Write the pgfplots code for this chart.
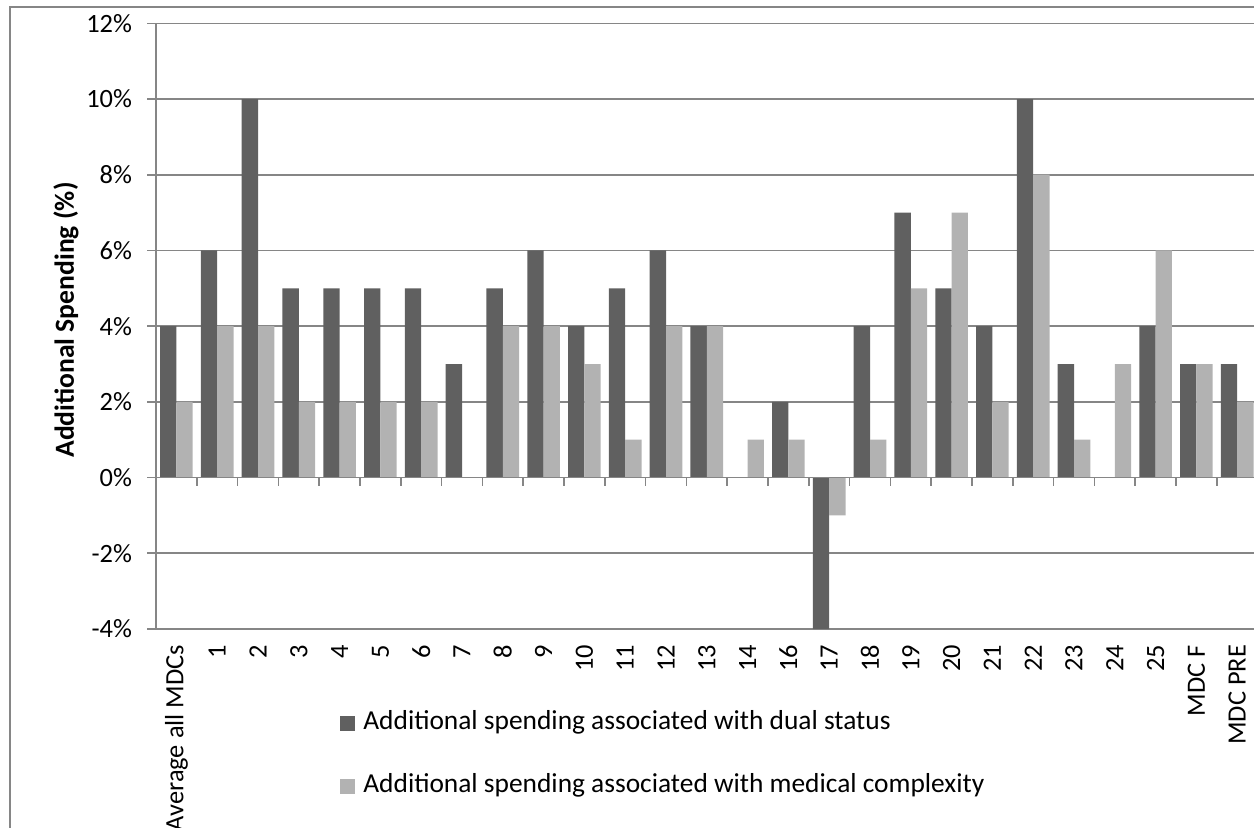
\documentclass[border=0pt]{standalone}
\usepackage{pgfplots}
\pgfplotsset{compat=1.18}
\usepackage{fontspec}
\setmainfont{Carlito}
\definecolor{dualc}{HTML}{606060}
\definecolor{cmplx}{HTML}{B2B2B2}
\definecolor{axgray}{HTML}{868686}
\newcommand{\chartfont}{\fontsize{13.2}{15.8}\selectfont}

\begin{document}
\begin{tikzpicture}
\useasboundingbox (0,0) rectangle (627pt,413.5pt);
\clip (0,0) rectangle (627pt,413.5pt);
% chart frame
\draw[axgray, line width=0.8pt] (5pt,-5pt) -- (5pt,410pt) -- (640pt,410pt);
\begin{axis}[
  at={(78pt,99pt)}, anchor=south west,
  scale only axis, width=550.8pt, height=302.85pt,
  xmin=-0.5, xmax=26.5, ymin=-4, ymax=12,
  axis line style={axgray, line width=0.8pt},
  ytick={-4,-2,...,12},
  yticklabels={-4\%,-2\%,0\%,2\%,4\%,6\%,8\%,10\%,12\%},
  ytick pos=left,
  tick align=outside,
  major tick length=4.5pt,
  y tick style={axgray, line width=0.8pt},
  ymajorgrids,
  grid style={axgray, line width=0.8pt},
  xtick={0,...,26},
  xticklabels={Average all MDCs,1,2,3,4,5,6,7,8,9,10,11,12,13,14,16,17,18,19,20,21,22,23,24,25,MDC F,MDC PRE},
  x tick style={draw=none},
  xticklabel style={rotate=90, anchor=east, font=\chartfont},
  yticklabel style={font=\chartfont, xshift=-4pt},
  ylabel={\textbf{Additional Spending (\%)}},
  y label style={at={(axis description cs:-0.0817,0.51)}, anchor=center, font=\fontsize{13.8}{16}\selectfont},
  legend cell align=left,
  legend image code/.code={\fill[#1] (0pt,-3.5pt) rectangle (7.5pt,4pt); \path (11.5pt,0pt);},
  legend style={at={(axis description cs:0.167,-0.1403)}, anchor=north west,
    draw=none, fill=none, inner sep=0pt, row sep=21.5pt,
    nodes={inner sep=0pt, text height=0.75em, text depth=0.25em, anchor=west},
    font=\fontsize{13.7}{16.4}\selectfont},
]
% additional spending associated with dual status
\addplot[ybar, fill=dualc, draw=none, bar width=0.4, bar shift=-0.2] coordinates {
  (0,4) (1,6) (2,10) (3,5) (4,5) (5,5) (6,5) (7,3) (8,5) (9,6) (10,4) (11,5) (12,6) (13,4)
  (14,0) (15,2) (16,-4) (17,4) (18,7) (19,5) (20,4) (21,10) (22,3) (23,0) (24,4) (25,3) (26,3)
};
\addlegendentry{Additional spending associated with dual status}
% additional spending associated with medical complexity
\addplot[ybar, fill=cmplx, draw=none, bar width=0.4, bar shift=0.2] coordinates {
  (0,2) (1,4) (2,4) (3,2) (4,2) (5,2) (6,2) (7,0) (8,4) (9,4) (10,3) (11,1) (12,4) (13,4)
  (14,1) (15,1) (16,-1) (17,1) (18,5) (19,7) (20,2) (21,8) (22,1) (23,3) (24,6) (25,3) (26,2)
};
\addlegendentry{Additional spending associated with medical complexity}
% horizontal axis through zero with category separators
\draw[axgray, line width=0.8pt] (axis cs:-0.5,0) -- (axis cs:26.5,0);
\pgfplotsinvokeforeach{0.5,1.5,...,25.5}{
  \draw[axgray, line width=0.8pt] (axis cs:#1,0) -- ++(0pt,-4pt);
}
\end{axis}
\end{tikzpicture}
\end{document}
